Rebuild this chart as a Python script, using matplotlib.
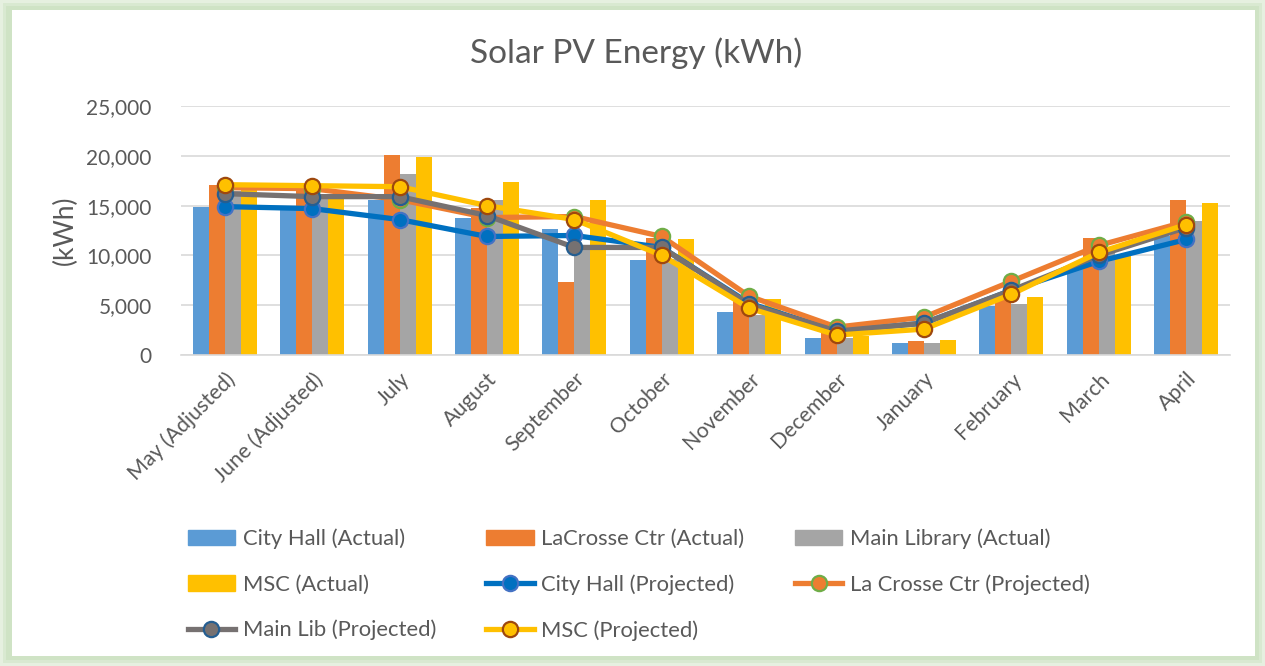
import numpy as np
import matplotlib
matplotlib.use("Agg")
import matplotlib.pyplot as plt
from matplotlib.patches import Rectangle, Patch
from matplotlib.lines import Line2D
from matplotlib.ticker import FuncFormatter

plt.rcParams['font.family'] = ['Lato', 'DejaVu Sans']

# months shown on the x axis
months = ["May (Adjusted)", "June (Adjusted)", "July", "August", "September", "October",
          "November", "December", "January", "February", "March", "April"]

# actual production (bars)
city_hall_actual = [14900, 14700, 15600, 13800, 12700, 9500, 4300, 1700, 1200, 4900, 8900, 11900]
lacrosse_actual = [17100, 16700, 20100, 14800, 7300, 11700, 5400, 2200, 1400, 5600, 11700, 15600]
main_lib_actual = [16500, 16000, 18200, 15600, 10900, 9600, 4000, 1700, 1200, 5100, 10300, 13500]
msc_actual = [16800, 16100, 19900, 17400, 15600, 11600, 5600, 1900, 1500, 5800, 9900, 15300]

# projected production (lines)
city_hall_proj = [14900, 14700, 13600, 11900, 12000, 10800, 5200, 2400, 3200, 6500, 9400, 11600]
lacrosse_proj = [16800, 16700, 15600, 13800, 13900, 11900, 5900, 2800, 3800, 7400, 11000, 13400]
main_lib_proj = [16200, 15900, 15900, 14000, 10800, 10800, 5100, 2400, 3200, 6500, 10000, 12800]
msc_proj = [17100, 17000, 16900, 15000, 13600, 10000, 4700, 2000, 2600, 6100, 10300, 13100]

fig = plt.figure(figsize=(12.65, 6.66), dpi=100)
fig.patch.set_facecolor("#ffffff")

# soft green frame round the chart
for i, c in enumerate(["#e6f0e0", "#d9e9d1", "#cfe3c5"]):
    d = 3 * i
    fig.patches.append(Rectangle((d / 1265, d / 666), 1 - 2 * d / 1265, 1 - 2 * d / 666,
                                 transform=fig.transFigure, facecolor=c, edgecolor="none", zorder=-2))
fig.patches.append(Rectangle((12 / 1265, 10 / 666), 1 - 22 / 1265, 1 - 20 / 666,
                             transform=fig.transFigure, facecolor="white", edgecolor="none", zorder=-1))

ax = fig.add_axes([181 / 1265, 1 - 355 / 666, 1049 / 1265, 249 / 666])
ax.set_facecolor("none")
ax.set_zorder(2)

x = np.arange(len(months))
w = 0.183
ax.bar(x - 1.5 * w, city_hall_actual, w, color="#5B9BD5", zorder=2)
ax.bar(x - 0.5 * w, lacrosse_actual, w, color="#ED7D31", zorder=2)
ax.bar(x + 0.5 * w, main_lib_actual, w, color="#A5A5A5", zorder=2)
ax.bar(x + 1.5 * w, msc_actual, w, color="#FFC000", zorder=2)

lw = 3.8
ms = 11
mew = 1.6
ax.plot(x, city_hall_proj, color="#0070C0", lw=lw, marker="o", ms=ms,
        mfc="#0070C0", mec="#4472C4", mew=mew, zorder=3)
ax.plot(x, lacrosse_proj, color="#ED7D31", lw=lw, marker="o", ms=ms,
        mfc="#ED7D31", mec="#70AD47", mew=mew, zorder=4)
ax.plot(x, main_lib_proj, color="#767171", lw=lw, marker="o", ms=ms,
        mfc="#767171", mec="#255E91", mew=mew, zorder=5)
ax.plot(x, msc_proj, color="#FFC000", lw=lw, marker="o", ms=ms,
        mfc="#FFC000", mec="#9E480E", mew=mew, zorder=6)

ax.set_xlim(-0.5, 11.5)
ax.set_ylim(0, 25000)
ax.set_yticks(range(0, 25001, 5000))
ax.yaxis.set_major_formatter(FuncFormatter(lambda v, p: f"{int(v):,}"))
ax.grid(axis="y", color="#d9d9d9", lw=1.2, zorder=0)
ax.set_axisbelow(True)
for s in ["top", "right", "left"]:
    ax.spines[s].set_visible(False)
ax.spines["bottom"].set_color("#d9d9d9")
ax.spines["bottom"].set_linewidth(1.2)
ax.tick_params(axis="y", length=0, labelsize=15, colors="#595959", pad=21)
ax.tick_params(axis="x", length=0, labelsize=15.3, colors="#595959", pad=10)
ax.set_xticks(x)
ax.set_xticklabels(months, rotation=45, ha="right", rotation_mode="anchor")
ax.set_ylabel("(kWh)", fontsize=19, color="#595959", labelpad=6)

fig.text(0.503, 1 - 53 / 666, "Solar PV Energy (kWh)", ha="center", va="center",
         fontsize=24, color="#595959")

def line_handle(c, fc, ec):
    return Line2D([], [], color=c, lw=lw, marker="o", ms=ms, mfc=fc, mec=ec, mew=mew)

handles = [
    Patch(color="#5B9BD5"), Patch(color="#FFC000"), line_handle("#767171", "#767171", "#255E91"),
    Patch(color="#ED7D31"), line_handle("#0070C0", "#0070C0", "#4472C4"), line_handle("#FFC000", "#FFC000", "#9E480E"),
    Patch(color="#A5A5A5"), line_handle("#ED7D31", "#ED7D31", "#70AD47"),
]
labels = [
    "City Hall (Actual)", "MSC (Actual)", "Main Lib (Projected)",
    "LaCrosse Ctr (Actual)", "City Hall (Projected)", "MSC (Projected)",
    "Main Library (Actual)", "La Crosse Ctr (Projected)",
]
leg = fig.legend(handles, labels, ncol=3, loc="upper left", bbox_to_anchor=(168 / 1265, 1 - 509 / 666),
                 frameon=False, fontsize=15.8, handlelength=2.15, handleheight=0.7, handletextpad=0.35,
                 columnspacing=2.3, labelspacing=1.15)
for t in leg.get_texts():
    t.set_color("#595959")

fig.savefig("out.png", dpi=100)
